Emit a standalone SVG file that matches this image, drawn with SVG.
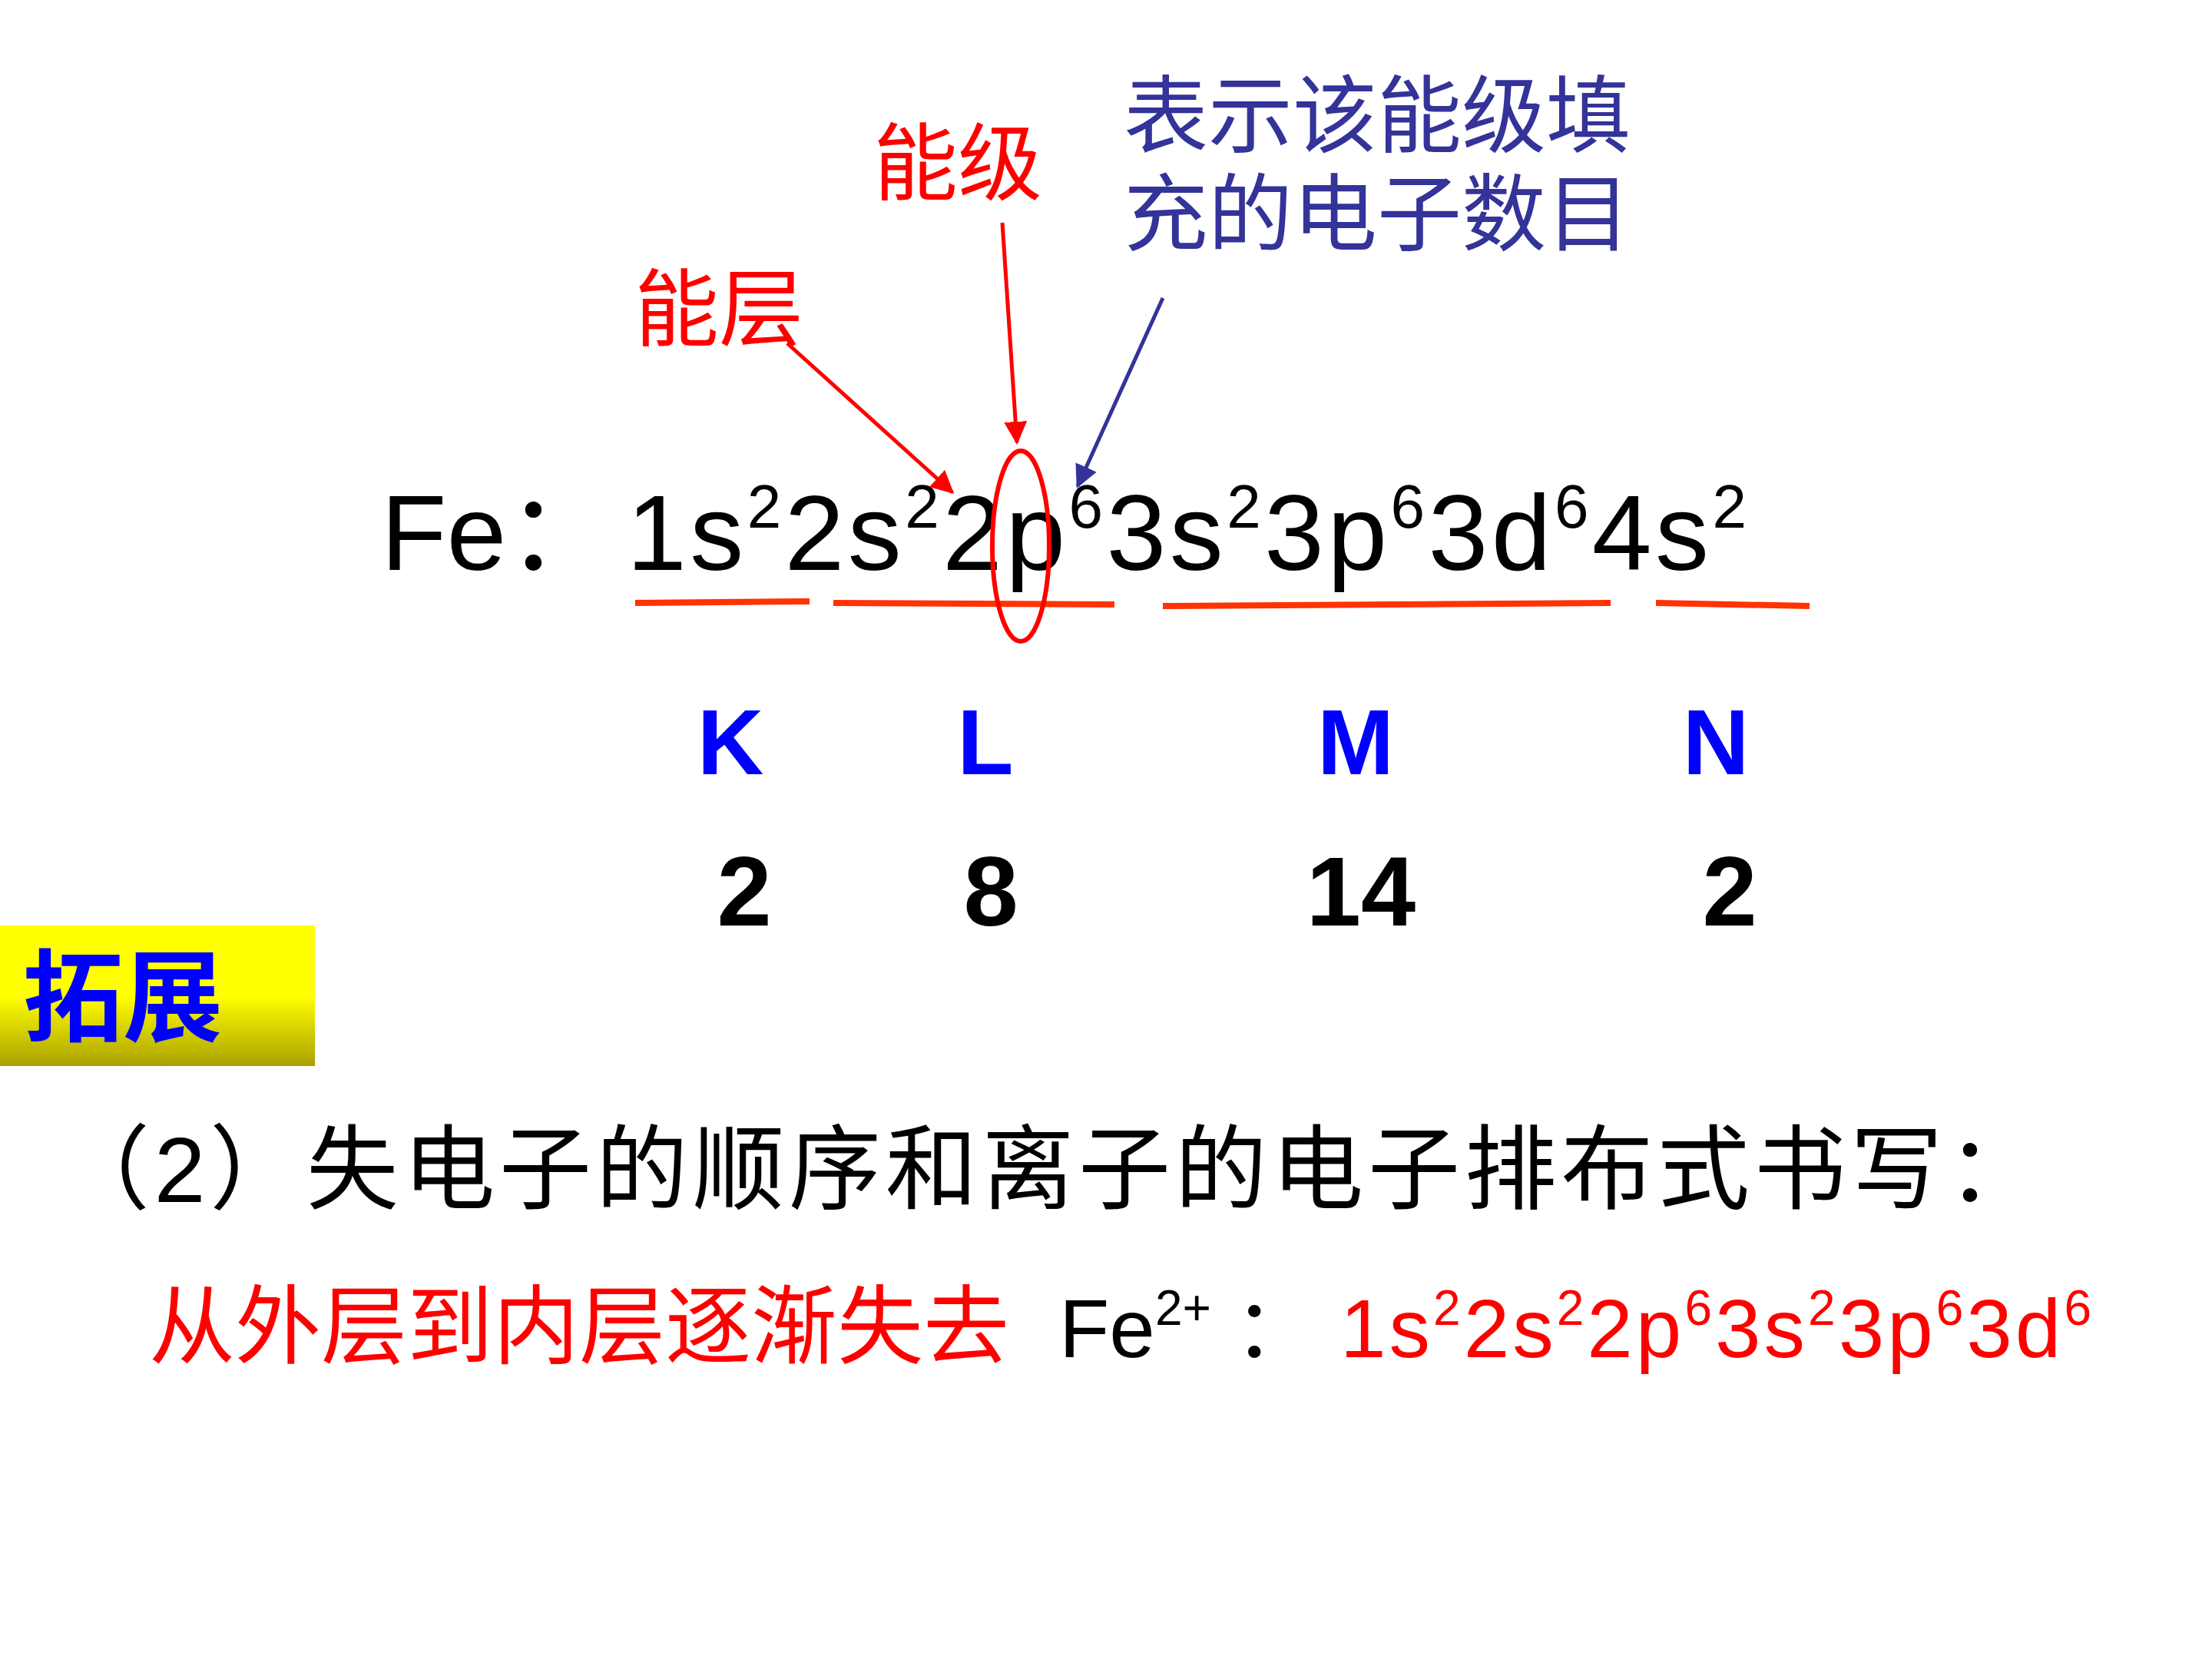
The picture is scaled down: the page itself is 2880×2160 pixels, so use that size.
<svg xmlns="http://www.w3.org/2000/svg" width="2880" height="2160" viewBox="0 0 2880 2160">
<style>
.cjk{font-family:"Liberation Sans","Noto Sans CJK SC",sans-serif}
.red{fill:#ff0000}
.blu{fill:#333399}
.lat{font-family:"Liberation Sans","Noto Sans CJK SC",sans-serif}
.ul{stroke:#ff3300;stroke-width:8;fill:none}
.bold{font-weight:bold}
</style>
<defs>
<marker id="ar" viewBox="0 0 10 10" refX="9" refY="5" markerWidth="6" markerHeight="6" orient="auto"><path d="M0,0 L10,5 L0,10 z" fill="#ff0000"/></marker>
<marker id="ab" viewBox="0 0 10 10" refX="9" refY="5" markerWidth="6" markerHeight="6" orient="auto"><path d="M0,0 L10,5 L0,10 z" fill="#333399"/></marker>
<linearGradient id="yg" x1="0" y1="0" x2="0" y2="1"><stop offset="0" stop-color="#ffff00"/><stop offset="0.5" stop-color="#ffff00"/><stop offset="1" stop-color="#aaa000"/></linearGradient>
</defs>
<rect width="2880" height="2160" fill="#fff"/>
<g id="label-nengji"><text class="cjk red" x="1137" y="252" font-size="110">能级</text></g>
<g id="label-desc"><text class="cjk blu" x="1463" y="190" font-size="110">表示该能级填</text><text class="cjk blu" x="1463" y="318" font-size="110">充的电子数目</text></g>
<g id="label-nengceng"><text class="cjk red" x="826" y="442" font-size="110">能层</text></g>
<g id="config">
<text class="lat" x="496" y="742" font-size="140">Fe：</text>
<text class="lat" x="816" y="742" font-size="140" textLength="1458" lengthAdjust="spacing">1s<tspan font-size="80" dy="-55">2</tspan><tspan dy="55">2s</tspan><tspan font-size="80" dy="-55">2</tspan><tspan dy="55">2p</tspan><tspan font-size="80" dy="-55">6</tspan><tspan dy="55">3s</tspan><tspan font-size="80" dy="-55">2</tspan><tspan dy="55">3p</tspan><tspan font-size="80" dy="-55">6</tspan><tspan dy="55">3d</tspan><tspan font-size="80" dy="-55">6</tspan><tspan dy="55">4s</tspan><tspan font-size="80" dy="-55">2</tspan></text>
</g>
<g id="marks">
<path class="ul" d="M827,785 L1054,783 M1085,785 L1451,787 M1514,789 L2097,785 M2156,785 L2356,789"/>
<ellipse cx="1329" cy="711" rx="37" ry="124" fill="none" stroke="#ff0000" stroke-width="6"/>
</g>
<g id="connectors">
<line x1="1025" y1="447" x2="1240" y2="641" stroke="#ff0000" stroke-width="5" marker-end="url(#ar)"/>
<line x1="1305" y1="290" x2="1324" y2="576" stroke="#ff0000" stroke-width="5" marker-end="url(#ar)"/>
<line x1="1514" y1="388" x2="1403" y2="633" stroke="#333399" stroke-width="5" marker-end="url(#ab)"/>
</g>
<g id="shells" class="lat bold" font-size="120" fill="#0000ff" text-anchor="middle">
<text x="951" y="1008">K</text><text x="1283" y="1008">L</text><text x="1765" y="1008">M</text><text x="2234" y="1008">N</text>
</g>
<g id="counts" class="lat bold" font-size="128" fill="#000" text-anchor="middle">
<text x="969" y="1205">2</text><text x="1290" y="1205">8</text><text x="1772" y="1205">14</text><text x="2252" y="1205">2</text>
</g>
<g id="tuozhan"><rect x="0" y="1205" width="410" height="183" fill="url(#yg)"/><text class="cjk bold" x="30" y="1345" font-size="130" fill="#0000ff">拓展</text></g>
<g id="heading"><text class="cjk" x="75" y="1565" font-size="120" fill="#000" textLength="2580" lengthAdjust="spacing">（2）失电子的顺序和离子的电子排布式书写：</text></g>
<g id="ion">
<text class="cjk red" x="194" y="1767" font-size="112">从外层到内层逐渐失去</text>
<text class="lat" x="1379" y="1767" font-size="107">Fe<tspan font-size="64" dy="-42">2+</tspan><tspan dy="42"> ：</tspan></text>
<text class="lat red" x="1745" y="1767" font-size="107" textLength="978" lengthAdjust="spacing">1s<tspan font-size="64" dy="-42">2</tspan><tspan dy="42">2s</tspan><tspan font-size="64" dy="-42">2</tspan><tspan dy="42">2p</tspan><tspan font-size="64" dy="-42">6</tspan><tspan dy="42">3s</tspan><tspan font-size="64" dy="-42">2</tspan><tspan dy="42">3p</tspan><tspan font-size="64" dy="-42">6</tspan><tspan dy="42">3d</tspan><tspan font-size="64" dy="-42">6</tspan></text>
</g>
</svg>
